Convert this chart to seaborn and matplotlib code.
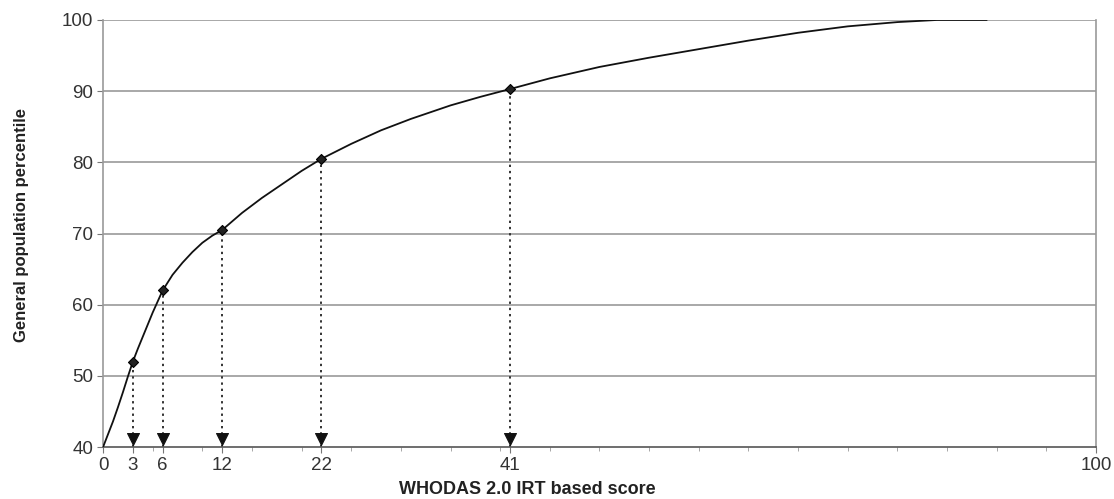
import numpy as np
import pandas as pd
import matplotlib
matplotlib.use("Agg")
import matplotlib.pyplot as plt
import seaborn as sns

# curve
curve_x = [0, 0.5, 1, 1.5, 2, 2.5, 3, 3.5, 4, 5, 6, 7, 8, 9, 10, 11, 12, 14, 16, 18, 20, 22, 25, 28, 31, 35,
           38, 41, 45, 50, 55, 60, 65, 70, 75, 80, 84, 89]
curve_y = [40, 41.8, 43.6, 45.6, 47.7, 49.9, 52, 53.8, 55.5, 58.9, 62, 64.2, 65.9, 67.4, 68.7, 69.7, 70.5,
           72.9, 75.0, 76.9, 78.8, 80.5, 82.6, 84.5, 86.1, 88.0, 89.2, 90.3, 91.8, 93.4, 94.7, 95.9, 97.1,
           98.2, 99.1, 99.7, 100, 100]

# marked scores
score_x = [3, 6, 12, 22, 41]
score_y = [52, 62, 70.5, 80.5, 90.3]

xtick_labels = [0, 3, 6, 12, 22, 41, 100]
ytick_vals = [40, 50, 60, 70, 80, 90, 100]

curve = pd.DataFrame({"score": curve_x, "pct": curve_y})
marks = pd.DataFrame({"score": score_x, "pct": score_y})

sns.set_style("white")
plt.rcParams["font.family"] = ["Liberation Sans", "DejaVu Sans"]

fig = plt.figure(figsize=(11.14, 4.99), dpi=100)
ax = fig.add_axes([0.0925, 0.104, 0.8913, 0.856])

# horizontal grid
for v in ytick_vals[1:]:
    ax.axhline(v, color="#9a9a9a", lw=1.2, zorder=1)

sns.lineplot(data=curve, x="score", y="pct", ax=ax, color="#111111", lw=1.3, zorder=3)

# dotted arrows down to the axis
ax.vlines(marks["score"], 40, marks["pct"], colors="#333333", linestyles=(0, (1.2, 2.0)), lw=1.4, zorder=2)
sns.scatterplot(x=marks["score"], y=[41.2] * len(marks), marker="v", s=75, color="#111111",
                edgecolor="#111111", ax=ax, zorder=4)
sns.scatterplot(data=marks, x="score", y="pct", marker="D", s=26, color="#222222",
                edgecolor="#000000", linewidth=0.8, ax=ax, zorder=5)

ax.set_xlim(0, 100)
ax.set_ylim(40, 100)
ax.set_xticks(xtick_labels)
ax.set_xticklabels([str(v) for v in xtick_labels])
ax.set_xticks(np.arange(0, 101, 5), minor=True)
ax.set_yticks(ytick_vals)
ax.tick_params(axis="both", which="major", direction="out", length=4, color="#777777",
               labelsize=13.5, labelcolor="#333333", pad=3)
ax.tick_params(axis="x", which="minor", direction="out", length=3, color="#999999")
ax.tick_params(axis="x", which="both", bottom=True)
ax.tick_params(axis="y", left=True)

for side in ["left", "right"]:
    ax.spines[side].set_color("#999999")
    ax.spines[side].set_linewidth(1.2)
ax.spines["bottom"].set_color("#555555")
ax.spines["bottom"].set_linewidth(1.2)
ax.spines["top"].set_visible(False)

ax.set_xlabel("WHODAS 2.0 IRT based score", fontsize=13, fontweight="bold", color="#222222")
ax.set_ylabel("General population percentile", fontsize=12, fontweight="bold", color="#222222")
ax.xaxis.set_label_coords(0.427, -0.08)
ax.yaxis.set_label_coords(-0.075, 0.52)

fig.savefig("out.png", dpi=100)
